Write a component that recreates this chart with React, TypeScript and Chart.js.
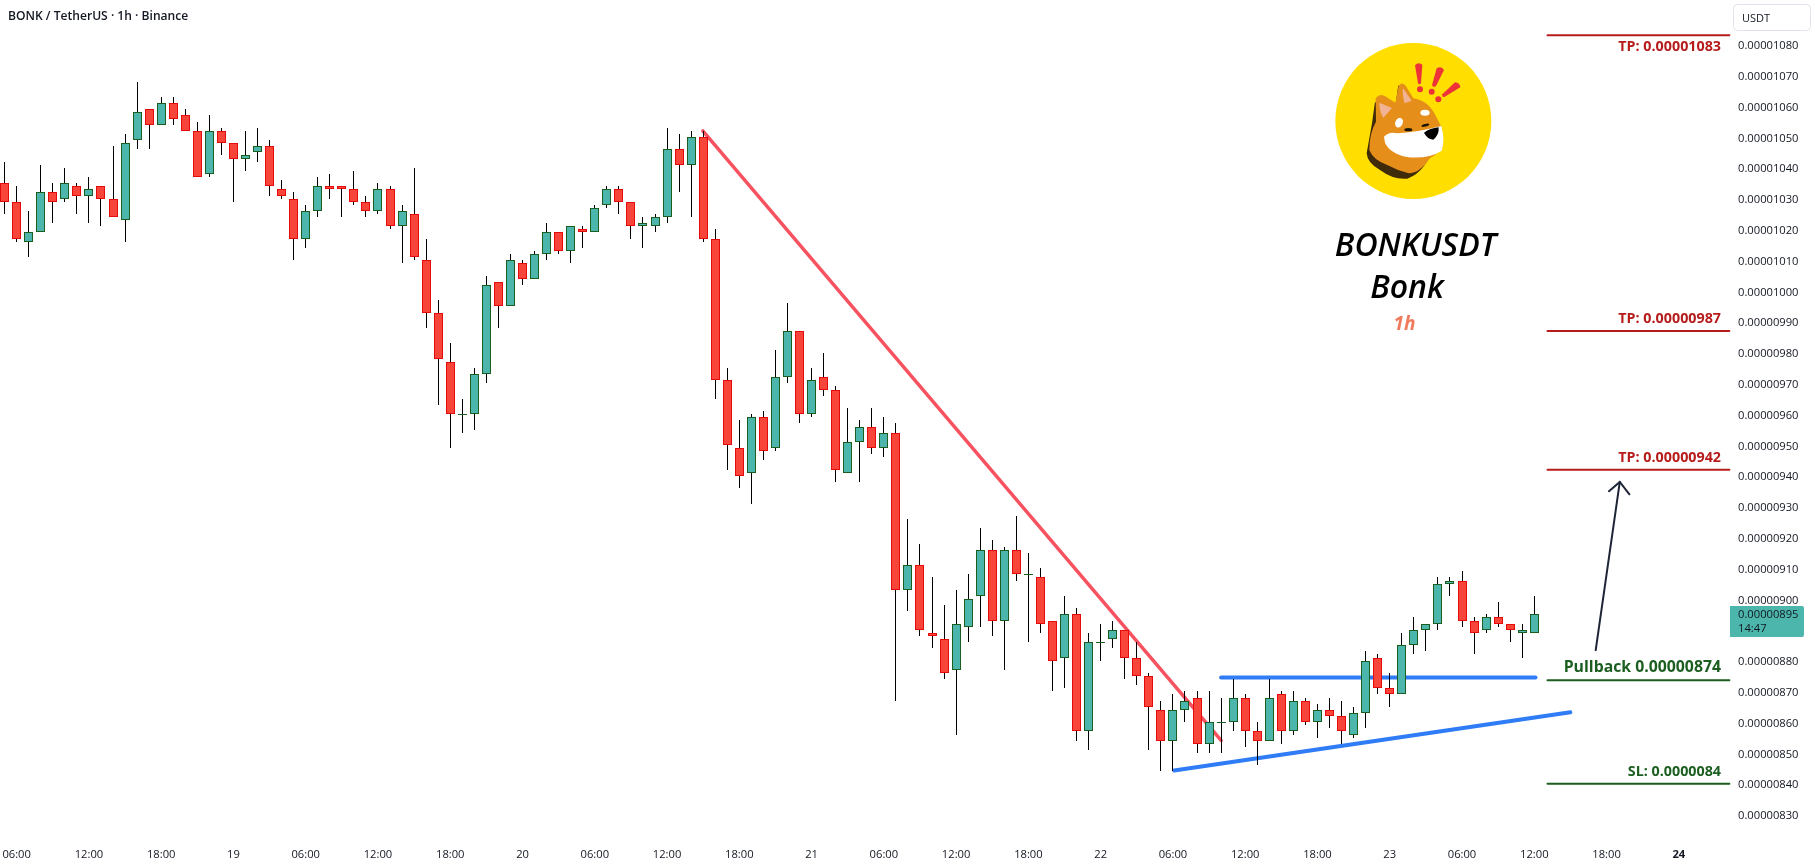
import { useEffect, useRef } from "react";
import Chart from "chart.js/auto";

// ─── Data (prices are in units of 0.00000001) ────────────────────────────────
const opens = [
  1035, 1029, 1016, 1019, 1032, 1030, 1034, 1031, 1034, 1030, 1023, 1049, 1059, 1054, 1061, 1057,
  1052, 1038, 1052, 1048, 1043, 1045, 1047, 1033, 1030, 1017, 1026, 1034, 1034, 1033, 1029, 1026,
  1033, 1021, 1025, 1010, 993, 977, 960, 960, 973, 1003, 995, 1009, 1004, 1012, 1019, 1013,
  1020, 1019, 1028, 1033, 1029, 1021, 1021, 1024, 1046, 1041, 1050, 1017, 971, 949, 941, 959,
  949, 972, 987, 960, 972, 968, 941, 951, 956, 949, 954, 903, 911, 889, 887, 877,
  891, 901, 916, 893, 916, 908, 907, 893, 881, 895, 857, 886, 887, 890, 881, 875,
  864, 854, 864, 868, 853, 860, 860, 868, 857, 854, 869, 857, 867, 860, 864, 862,
  856, 863, 881, 871, 869, 885, 890, 892, 905, 906, 893, 890, 894, 892, 889, 889,
];
const highs = [
  1042, 1034, 1026, 1041, 1035, 1040, 1035, 1037, 1034, 1047, 1051, 1068, 1059, 1063, 1063, 1059,
  1055, 1057, 1053, 1048, 1052, 1053, 1049, 1036, 1032, 1028, 1037, 1038, 1034, 1039, 1031, 1035,
  1034, 1028, 1040, 1017, 997, 983, 965, 975, 1005, 1003, 1012, 1010, 1013, 1022, 1019, 1021,
  1021, 1028, 1034, 1034, 1029, 1024, 1025, 1053, 1051, 1052, 1052, 1020, 975, 958, 960, 961,
  981, 996, 987, 975, 980, 969, 962, 958, 962, 959, 957, 926, 918, 907, 898, 903,
  908, 923, 919, 917, 927, 915, 910, 893, 901, 897, 889, 892, 893, 890, 886, 876,
  867, 869, 870, 870, 870, 868, 874, 869, 860, 874, 870, 870, 868, 866, 868, 867,
  865, 883, 882, 876, 889, 894, 892, 907, 907, 909, 894, 895, 899, 892, 892, 901,
];
const lows = [
  1025, 1016, 1011, 1019, 1022, 1029, 1025, 1022, 1021, 1024, 1016, 1046, 1046, 1054, 1054, 1052,
  1037, 1037, 1044, 1029, 1039, 1042, 1031, 1030, 1010, 1014, 1024, 1030, 1024, 1028, 1024, 1025,
  1020, 1009, 1010, 988, 963, 949, 954, 955, 970, 988, 995, 1002, 1004, 1010, 1012, 1009,
  1014, 1019, 1027, 1025, 1017, 1014, 1019, 1022, 1032, 1024, 1016, 965, 942, 936, 931, 945,
  948, 970, 957, 959, 966, 938, 941, 938, 947, 946, 867, 896, 888, 884, 874, 856,
  886, 891, 888, 877, 906, 886, 889, 870, 871, 854, 851, 880, 884, 874, 872, 851,
  844, 844, 860, 850, 850, 850, 857, 852, 846, 854, 853, 856, 859, 855, 858, 853,
  855, 858, 869, 865, 869, 882, 883, 890, 901, 891, 882, 889, 891, 886, 881, 889,
];
const closes = [
  1029, 1017, 1019, 1032, 1029, 1035, 1031, 1033, 1030, 1024, 1048, 1058, 1054, 1061, 1056, 1052,
  1037, 1052, 1048, 1043, 1044, 1047, 1034, 1031, 1017, 1026, 1034, 1033, 1033, 1029, 1026, 1033,
  1021, 1026, 1011, 993, 978, 960, 960, 973, 1002, 995, 1010, 1004, 1012, 1019, 1013, 1021,
  1019, 1027, 1033, 1029, 1021, 1022, 1024, 1046, 1041, 1050, 1017, 971, 950, 940, 959, 948,
  972, 987, 960, 971, 968, 942, 951, 956, 949, 954, 903, 911, 890, 888, 876, 892,
  900, 916, 893, 916, 908, 908, 892, 880, 895, 857, 886, 886, 890, 881, 875, 865,
  854, 864, 867, 853, 860, 860, 868, 857, 854, 868, 857, 867, 860, 864, 862, 857,
  863, 880, 871, 869, 885, 890, 892, 905, 906, 893, 889, 894, 892, 890, 890, 895,
];

const priceTicks = [
  830, 840, 850, 860, 870, 880, 890, 900, 910, 920, 930, 940, 950, 960, 970, 980, 990, 1000, 1010,
  1020, 1030, 1040, 1050, 1060, 1070, 1080,
];
const timeTicks = [1, 7, 13, 19, 25, 31, 37, 43, 49, 55, 61, 67, 73, 79, 85, 91, 97, 103, 109, 115, 121, 127, 133, 139];
const timeLabels = [
  "06:00", "12:00", "18:00", "19", "06:00", "12:00", "18:00", "20", "06:00", "12:00", "18:00", "21",
  "06:00", "12:00", "18:00", "22", "06:00", "12:00", "18:00", "23", "06:00", "12:00", "18:00", "24",
];

// target levels on the right
const levelPrices = [1083, 987, 942, 873.6, 840];
const levelTexts = ["TP: 0.00001083", "TP: 0.00000987", "TP: 0.00000942", "Pullback 0.00000874", "SL: 0.0000084"];
const levelFrom = 128.1;
const levelTo = 143.2;

// drawn trend lines, [candle index, price]
const redTrend = [[57.97, 1052], [101, 854.1]];
const blueFlat = [[101, 874.5], [127.1, 874.5]];
const blueRising = [[97.1, 844.3], [130, 863.2]];
const arrowShaft = [[132.1, 883.4], [134.1, 938]];
const arrowHead = [[133.2, 935], [134.1, 938], [134.9, 934]];

const lastPrice = 895;
const countdown = "14:47";

// ─── Style ────────────────────────────────────────────────────────────────────
const FONT = "'Open Sans', 'Noto Sans', sans-serif";
const INK = "#131722";
const TEAL = "#4db6ac";
const TEAL_EDGE = "#1b5e20";
const RED = "#f84539";
const RED_EDGE = "#e60a0a";
const TP_RED = "#b71c1c";
const SL_GREEN = "#1b5e20";
const BLUE = "#2f7cf6";

const fmtPrice = (v: number) => (v / 1e8).toFixed(8);
const points = (list: number[][]) => list.map(([x, y]) => ({ x, y }));

const lineSet = (list: number[][], color: string, width: number) => ({
  type: "line" as const,
  data: points(list),
  borderColor: color,
  borderWidth: width,
  pointRadius: 0,
  order: 3,
  borderCapStyle: "round" as const,
  clip: false as const,
});

// chart.js reserves half a label at the ends of an axis, the plot has to fill the canvas
const noAxisPadding = (axis: any) => {
  axis.paddingLeft = 0;
  axis.paddingRight = 0;
  axis.paddingTop = 0;
  axis.paddingBottom = 0;
};

// TV paints candles on whole pixels, so snap the bar elements before drawing
const snapCandles = {
  id: "snapCandles",
  beforeDatasetsDraw(chart: any) {
    chart.getSortedVisibleDatasetMetas().forEach((meta: any) => {
      if (meta.type !== "bar") return;
      meta.data.forEach((el: any) => {
        el.x = Math.floor(el.x) + 0.5;
        el.y = Math.round(el.y);
        el.base = Math.round(el.base);
        if (el.y === el.base) el.base += 1;
        el.height = el.base - el.y;
      });
    });
  },
};

const text = (c: CanvasRenderingContext2D, s: string, x: number, y: number, font: string, color: string, align: CanvasTextAlign = "left") => {
  c.font = font;
  c.fillStyle = color;
  c.textAlign = align;
  c.textBaseline = "alphabetic";
  c.fillText(s, x, y);
};

const overlay = {
  id: "overlay",
  afterDraw(chart: any) {
    const c: CanvasRenderingContext2D = chart.ctx;
    const yScale = chart.scales.y;
    c.save();

    // header
    text(c, "BONK / TetherUS · 1h · Binance", 8, 20, `600 12.1px ${FONT}`, INK);

    // currency button
    c.strokeStyle = "#e0e3eb";
    c.lineWidth = 1;
    c.beginPath();
    c.roundRect(1733.5, 4.5, 77, 26, 4);
    c.stroke();
    text(c, "USDT", 1742, 21.5, `11px ${FONT}`, INK);

    // level labels, the pullback one is set a bit larger
    levelPrices.forEach((p, i) => {
      const y = yScale.getPixelForValue(p);
      const color = i < 3 ? TP_RED : SL_GREEN;
      const base = i === 0 ? y + 16 : y - 8;
      const size = i === 3 ? 15.8 : 14.3;
      text(c, levelTexts[i], 1721, base, `700 ${size}px ${FONT}`, color, "right");
    });

    // last price tag
    const tagY = yScale.getPixelForValue(lastPrice);
    c.fillStyle = TEAL;
    c.beginPath();
    c.roundRect(1730, Math.round(tagY) - 8, 74, 31, [0, 2, 2, 0]);
    c.fill();
    text(c, fmtPrice(lastPrice), 1738, tagY + 4, `11.2px ${FONT}`, INK);
    text(c, countdown, 1738, tagY + 18, `11.2px ${FONT}`, INK);

    // idea title under the logo
    text(c, "BONKUSDT", 1415.5, 256, `italic 600 32px ${FONT}`, "#000000", "center");
    text(c, "Bonk", 1407, 298, `italic 600 32px ${FONT}`, "#000000", "center");
    text(c, "1h", 1404.5, 330, `italic 700 19px ${FONT}`, "#ef7a5c", "center");

    c.restore();
  },
};

// ─── Logo, coordinates follow a 3x crop of the corner ─────────────────────────
function BonkLogo() {
  return (
    <svg
      viewBox="0 0 1455 900"
      width={485}
      height={300}
      style={{ position: "absolute", left: 1330, top: 0, pointerEvents: "none" }}
    >
      <circle cx={250} cy={363} r={234} fill="#ffde00" />
      {/* shadow side of the head */}
      <path d="M135 305 L126 370 L110 460 Q112 490 150 510 Q190 540 232 536 Q262 525 282 498 L300 465 L200 380 Z" fill="#3f2a0a" />
      <path d="M205 255 L197 312 L230 310 Z" fill="#3f2a0a" />
      {/* head */}
      <path
        d="M137 295 Q150 278 168 290 L196 308 L206 258 Q214 244 226 256 L250 295 Q292 300 316 345 L336 385 L338 440 Q320 465 300 474 Q270 520 236 520 Q200 510 170 494 Q130 480 118 450 Q118 400 138 365 Z"
        fill="#e58e1a"
      />
      <path d="M148 308 L186 324 L160 353 Q148 335 148 308 Z" fill="#f2b394" />
      <path d="M219 264 L245 302 L224 310 Q216 285 219 264 Z" fill="#f2b394" />
      {/* muzzle */}
      <path
        d="M162 410 Q178 393 202 400 Q255 398 334 378 Q346 420 335 452 Q300 476 236 472 Q180 462 165 428 Z"
        fill="#ffffff"
      />
      <ellipse cx={285} cy={338} rx={14} ry={9} fill="#ffffff" />
      <ellipse cx={207} cy={368} rx={11} ry={15} transform="rotate(25 207 368)" fill="#ffffff" />
      <ellipse cx={235} cy={389} rx={12} ry={5} fill="#1a1408" />
      <ellipse cx={286} cy={376} rx={12} ry={4} transform="rotate(-15 286 376)" fill="#1a1408" />
      <path d="M282 398 Q300 385 326 382 Q328 405 310 419 Q290 416 282 398 Z" fill="#000000" />
      {/* exclamation marks */}
      <path d="M255 196 Q265 184 277 194 L273 250 Q268 256 264 250 Z" fill="#ee3338" />
      <circle cx={270} cy={268} r={9} fill="#ee3338" />
      <path d="M320 205 Q334 196 342 210 L318 258 Q310 264 306 256 Z" fill="#ee3338" />
      <circle cx={305} cy={275} r={9} fill="#ee3338" />
      <path d="M375 247 Q390 248 391 262 L343 291 Q335 292 337 283 Z" fill="#ee3338" />
      <circle cx={325} cy={298} r={9} fill="#ee3338" />
    </svg>
  );
}

// ─── Component ────────────────────────────────────────────────────────────────
export default function App() {
  const canvasRef = useRef<HTMLCanvasElement | null>(null);

  useEffect(() => {
    if (!canvasRef.current) return;

    const isUp = opens.map((o, i) => closes[i] >= o);
    const isDoji = opens.map((o, i) => closes[i] === o);

    const chart = new Chart(canvasRef.current, {
      type: "bar",
      data: {
        datasets: [
          {
            label: "bodies",
            data: opens.map((o, i) => ({ x: i, y: [o, closes[i]] })),
            backgroundColor: opens.map((_, i) => (isDoji[i] ? TEAL_EDGE : isUp[i] ? TEAL : RED)),
            borderColor: opens.map((_, i) => (isUp[i] ? TEAL_EDGE : RED_EDGE)),
            borderWidth: 1,
            borderSkipped: false,
            inflateAmount: 0,
            barThickness: 9,
            grouped: false,
            order: 1,
          },
          {
            label: "wicks",
            data: lows.map((l, i) => ({ x: i, y: [l, highs[i]] })),
            backgroundColor: "#000000",
            borderWidth: 0,
            inflateAmount: 0,
            barThickness: 1,
            grouped: false,
            order: 2,
          },
          lineSet(redTrend, "#f7525f", 3.5),
          lineSet(blueFlat, BLUE, 4),
          lineSet(blueRising, BLUE, 4),
          lineSet(arrowShaft, "#1e2537", 2),
          lineSet(arrowHead, "#1e2537", 2),
          ...levelPrices.map((p, i) =>
            lineSet([[levelFrom, p], [levelTo, p]], i < 3 ? TP_RED : SL_GREEN, 2)
          ),
        ] as any,
      },
      options: {
        responsive: false,
        animation: false,
        devicePixelRatio: 1,
        layout: { padding: 0 },
        plugins: { legend: { display: false }, tooltip: { enabled: false } },
        events: [],
        scales: {
          x: {
            type: "linear",
            offset: false, // bar charts turn this on by default
            min: -0.382,
            max: 143.25,
            grid: { display: false, drawTicks: false },
            border: { display: false },
            afterBuildTicks: (axis: any) => {
              axis.ticks = timeTicks.map((value) => ({ value }));
            },
            afterFit: (axis: any) => {
              axis.height = 30;
              noAxisPadding(axis);
            },
            ticks: {
              autoSkip: false,
              maxRotation: 0,
              padding: 10,
              color: INK,
              font: (ctx: any) => ({
                family: FONT,
                size: 11.2,
                weight: ctx.tick && ctx.tick.value === 139 ? "bold" : "normal",
              }),
              callback: (v: any) => timeLabels[timeTicks.indexOf(v)],
            },
          },
          y: {
            position: "right",
            min: 822.4,
            max: 1094.48,
            grid: { display: false, drawTicks: false },
            border: { display: false },
            afterBuildTicks: (axis: any) => {
              axis.ticks = priceTicks.map((value) => ({ value }));
            },
            afterFit: (axis: any) => {
              axis.width = 85;
              noAxisPadding(axis);
            },
            ticks: {
              autoSkip: false,
              crossAlign: "near",
              padding: 8,
              labelOffset: 1.5,
              color: INK,
              font: { family: FONT, size: 11.2 },
              callback: (v: any) => fmtPrice(v),
            },
          },
        },
      } as any,
      plugins: [snapCandles, overlay],
    });

    return () => chart.destroy();
  }, []);

  return (
    <div style={{ position: "relative", width: 1815, height: 868, overflow: "hidden", background: "#ffffff" }}>
      <style>{`body { margin: 0; background: #ffffff; }`}</style>
      <canvas ref={canvasRef} width={1815} height={868} style={{ display: "block" }} />
      <BonkLogo />
    </div>
  );
}
